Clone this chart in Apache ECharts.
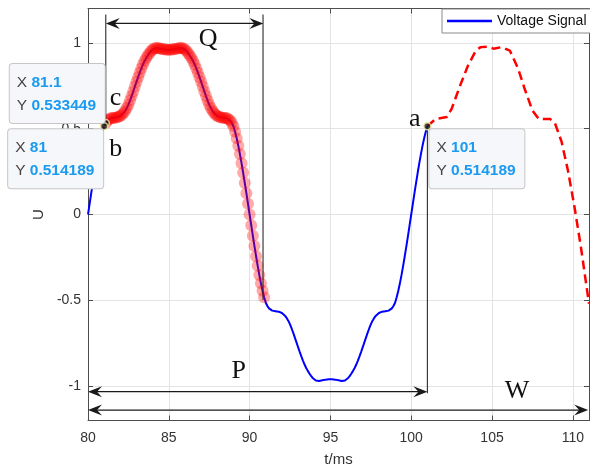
<!DOCTYPE html>
<html><head><meta charset="utf-8">
<script src="https://cdn.jsdelivr.net/npm/echarts@6/dist/echarts.min.js"></script>
<style>html,body{margin:0;padding:0;background:#fff}#c{width:590px;height:469px}</style>
</head><body><div id="c"></div>
<script>
// ---- data ----
const tStart = 80, tStep = 0.1;           // sampling of the voltage signal (ms)
const voltage = [
 0.000,0.062,0.124,0.184,0.243,0.299,0.352,0.401,0.444,0.482,
 0.514,0.533,0.547,0.555,0.560,0.562,0.563,0.564,0.566,0.569,
 0.574,0.581,0.591,0.604,0.620,0.640,0.664,0.690,0.717,0.745,
 0.773,0.800,0.826,0.851,0.874,0.894,0.911,0.926,0.940,0.952,
 0.961,0.967,0.970,0.970,0.968,0.966,0.964,0.962,0.961,0.960,
 0.960,
 0.960,0.961,0.962,0.964,0.966,0.968,0.970,0.970,0.967,0.961,
 0.952,0.940,0.926,0.911,0.894,0.874,0.851,0.826,0.800,0.773,
 0.745,0.717,0.690,0.664,0.640,0.620,0.604,0.591,0.581,0.574,
 0.569,0.566,0.564,0.563,0.562,0.560,0.555,0.547,0.533,0.514,
 0.482,0.444,0.401,0.352,0.299,0.243,0.184,0.124,0.062,0.000,
 -0.062,-0.124,-0.184,-0.243,-0.299,-0.352,-0.401,-0.444,-0.482,-0.514,
 -0.533,-0.547,-0.555,-0.560,-0.562,-0.563,-0.564,-0.566,-0.569,-0.574,
 -0.581,-0.591,-0.604,-0.620,-0.640,-0.664,-0.690,-0.717,-0.745,-0.773,
 -0.800,-0.826,-0.851,-0.874,-0.894,-0.911,-0.926,-0.940,-0.952,-0.961,
 -0.967,-0.970,-0.970,-0.968,-0.966,-0.964,-0.962,-0.961,-0.960,-0.960,
 -0.960,-0.961,-0.962,-0.964,-0.966,-0.968,-0.970,-0.970,-0.967,-0.961,
 -0.952,-0.940,-0.926,-0.911,-0.894,-0.874,-0.851,-0.826,-0.800,-0.773,
 -0.745,-0.717,-0.690,-0.664,-0.640,-0.620,-0.604,-0.591,-0.581,-0.574,
 -0.569,-0.566,-0.564,-0.563,-0.562,-0.560,-0.555,-0.547,-0.533,-0.514,
 -0.482,-0.444,-0.401,-0.352,-0.299,-0.243,-0.184,-0.124,-0.062,0.000,
 0.062,0.124,0.184,0.243,0.299,0.352,0.401,0.444,0.482,0.514
];
const tailT = [101.0,101.5,102.2,102.5,103.0,103.5,104.0,104.3,104.7,105.1,105.6,106.1,106.6,107.0,107.5,107.9,108.6,108.9,109.3,109.7,110.1,110.5,111.0];
const tailY = [0.514,0.556,0.568,0.615,0.745,0.865,0.955,0.975,0.977,0.966,0.975,0.955,0.853,0.737,0.605,0.556,0.556,0.530,0.425,0.255,0.045,-0.190,-0.520];
const markerFrom = 81.1, markerTo = 90.9;   // highlighted span (red markers)
const tipX = [81.1, 81, 101];
const tipY = [0.533449, 0.514189, 0.514189];
const legendName = 'Voltage Signal';

// ---- annotations (data coordinates) ----
const arrowFrom = [81.1, 80, 80], arrowTo = [90.85, 101, 110.95], arrowAt = [1.113, -1.032, -1.139];
const vlineX = [81.1, 90.83, 101], vlineTop = [1.165, 1.165, 0.514], vlineBot = [0.533, -0.498, -1.041];
const letters = ['Q','c','b','a','P','W'];
const letterX = [87.43, 81.71, 81.71, 100.22, 89.32, 106.54];
const letterY = [1.022, 0.678, 0.381, 0.556, -0.911, -1.028];
const tipAnchor = [
  {side:'left', va:'bottom', dx:-1, dy:0},
  {side:'left', va:'top', dx:-1, dy:3},
  {side:'right', va:'top', dx:2, dy:3}
];

// ---- build ----
const sans = '"Liberation Sans", Arial, Helvetica, sans-serif';
const serif = '"Liberation Serif", "Times New Roman", serif';
const blueData = voltage.map((v, i) => [+(tStart + i * tStep).toFixed(1), v]);
const markerData = blueData.filter(p => p[0] >= markerFrom - 1e-9 && p[0] <= markerTo + 1e-9);
const tailData = tailT.map((t, i) => [t, tailY[i]]);

function head(tip, d) {
  const L = 14, W = 5.5, N = 9, px = -d[1], py = d[0];
  return [[tip[0], tip[1]],
          [tip[0] + d[0]*L + px*W, tip[1] + d[1]*L + py*W],
          [tip[0] + d[0]*N, tip[1] + d[1]*N],
          [tip[0] + d[0]*L - px*W, tip[1] + d[1]*L - py*W]];
}

const axisCol = '#4d4d4d';
const TIP_W = 80, TIP_PAD = [7, 8, 6, 7];
const chart = echarts.init(document.getElementById('c'), null, {renderer: 'canvas'});
const baseX = {type:'value', min:80, max:111, interval:5, gridIndex:0};
const baseY = {type:'value', min:-1.2, max:1.2, gridIndex:0};
chart.setOption({
  animation: false,
  backgroundColor: '#fff',
  grid: {left: 88, top: 8.5, width: 501, height: 412, containLabel: false, outerBoundsMode: 'none'},
  legend: {
    data: [{name: legendName, icon: 'rect'}], left: 442, top: 9, padding: [5, 5, 5, 5],
    itemWidth: 45, itemHeight: 2.5, borderColor: '#8a8a8a', borderWidth: 1, backgroundColor: '#fff',
    itemStyle: {color: '#0000ff', borderWidth: 0},
    textStyle: {fontSize: 14, color: '#111', fontFamily: sans}
  },
  xAxis: [
    Object.assign({}, baseX, {
      position: 'bottom',
      axisLine: {show: true, onZero: false, lineStyle: {color: axisCol, width: 1}},
      axisTick: {show: true, inside: true, length: 5, lineStyle: {color: axisCol}},
      axisLabel: {fontSize: 14, color: '#333', margin: 11, fontFamily: sans, showMaxLabel: false},
      splitLine: {show: true, lineStyle: {color: '#e3e3e3', width: 1}},
      name: 't/ms', nameLocation: 'middle', nameGap: 32,
      nameTextStyle: {fontSize: 15, color: '#333', fontFamily: sans}
    }),
    Object.assign({}, baseX, {
      position: 'top',
      axisLine: {show: true, onZero: false, lineStyle: {color: axisCol, width: 1}},
      axisTick: {show: true, inside: true, length: 5, lineStyle: {color: axisCol}},
      axisLabel: {show: false}, splitLine: {show: false}
    })
  ],
  yAxis: [
    Object.assign({}, baseY, {
      position: 'left',
      axisLine: {show: true, onZero: false, lineStyle: {color: axisCol, width: 1}},
      axisTick: {show: true, inside: true, length: 5, lineStyle: {color: axisCol}},
      axisLabel: {fontSize: 14, color: '#333', margin: 7, fontFamily: sans, showMinLabel: false, showMaxLabel: false},
      splitLine: {show: true, lineStyle: {color: '#e3e3e3', width: 1}},
      name: 'U', nameLocation: 'middle', nameGap: 32, nameRotate: 90,
      nameTextStyle: {fontSize: 15, color: '#333', fontFamily: sans}
    }),
    Object.assign({}, baseY, {
      position: 'right',
      axisLine: {show: true, onZero: false, lineStyle: {color: axisCol, width: 1}},
      axisTick: {show: true, inside: true, length: 5, lineStyle: {color: axisCol}},
      axisLabel: {show: false}, splitLine: {show: false}
    })
  ],
  series: [
    {
      name: legendName, type: 'line', data: blueData, symbol: 'none', showSymbol: false,
      lineStyle: {color: '#0000ff', width: 2}, itemStyle: {color: '#0000ff'}, z: 3, silent: true
    },
    {
      type: 'scatter', data: markerData, symbol: 'circle', symbolSize: 12,
      itemStyle: {color: 'rgba(255,0,0,0.42)'}, z: 4, silent: true
    },
    {
      type: 'line', data: tailData, symbol: 'none', showSymbol: false,
      lineStyle: {color: '#ff0000', width: 2.5, type: [9, 5]}, z: 3, silent: true
    },
    {
      type: 'custom', silent: true, clip: false, z: 5,
      data: vlineX.map((x, i) => [x, vlineTop[i], vlineBot[i]]),
      encode: {x: 0, y: [1, 2]},
      renderItem: function (params, api) {
        const a = api.coord([api.value(0), api.value(1)]);
        const b = api.coord([api.value(0), api.value(2)]);
        return {type: 'line', shape: {x1: a[0], y1: a[1], x2: b[0], y2: b[1]},
                style: {stroke: '#2a2a2a', lineWidth: 1.1}};
      }
    },
    {
      type: 'custom', silent: true, clip: false, z: 5,
      data: arrowFrom.map((x, i) => [x, arrowTo[i], arrowAt[i]]),
      encode: {x: [0, 1], y: 2},
      renderItem: function (params, api) {
        const a = api.coord([api.value(0), api.value(2)]);
        const b = api.coord([api.value(1), api.value(2)]);
        return {type: 'group', children: [
          {type: 'line', shape: {x1: a[0] + 5, y1: a[1], x2: b[0] - 5, y2: b[1]}, style: {stroke: '#1a1a1a', lineWidth: 1.3}},
          {type: 'polygon', shape: {points: head(a, [1, 0])}, style: {fill: '#1a1a1a'}},
          {type: 'polygon', shape: {points: head(b, [-1, 0])}, style: {fill: '#1a1a1a'}}
        ]};
      }
    },
    {
      type: 'scatter', data: tipX.map((x, i) => [x, tipY[i]]), symbol: 'circle', symbolSize: 7,
      itemStyle: {color: '#1a1a1a', borderColor: '#f3eea0', borderWidth: 1.5}, z: 7, silent: true
    },
    {
      type: 'custom', silent: true, clip: false, z: 6,
      data: letterX.map((x, i) => [x, letterY[i]]),
      encode: {x: 0, y: 1},
      renderItem: function (params, api) {
        const p = api.coord([api.value(0), api.value(1)]);
        return {type: 'text', x: p[0], y: p[1],
                style: {text: letters[params.dataIndex], fontSize: 26, fontFamily: serif, fill: '#111',
                        align: 'center', verticalAlign: 'middle'}};
      }
    },
    {
      type: 'custom', silent: true, clip: false, z: 8,
      data: tipX.map((x, i) => [x, tipY[i]]),
      encode: {x: 0, y: 1},
      renderItem: function (params, api) {
        const i = params.dataIndex, an = tipAnchor[i];
        const p = api.coord([api.value(0), api.value(1)]);
        const outerW = TIP_W + TIP_PAD[1] + TIP_PAD[3];
        const x = an.side === 'left' ? p[0] + an.dx - outerW : p[0] + an.dx;
        return {type: 'text', x: x, y: p[1] + an.dy, z2: 10,
                style: {
                  text: '{l|X }{v|' + tipX[i] + '}\n{l|Y }{v|' + tipY[i].toFixed(6) + '}',
                  align: 'left', verticalAlign: an.va, width: TIP_W,
                  fontSize: 15.5, fontFamily: sans, lineHeight: 23,
                  backgroundColor: '#f6f7fa', borderColor: '#c6c6c6', borderWidth: 1, borderRadius: 3,
                  padding: TIP_PAD,
                  rich: {
                    l: {fill: '#444', fontSize: 15.5, fontFamily: sans, lineHeight: 23},
                    v: {fill: '#1a9af0', fontSize: 15.5, fontFamily: sans, fontWeight: 'bold', lineHeight: 23}
                  }
                }};
      }
    }
  ]
});
</script>
</body></html>
